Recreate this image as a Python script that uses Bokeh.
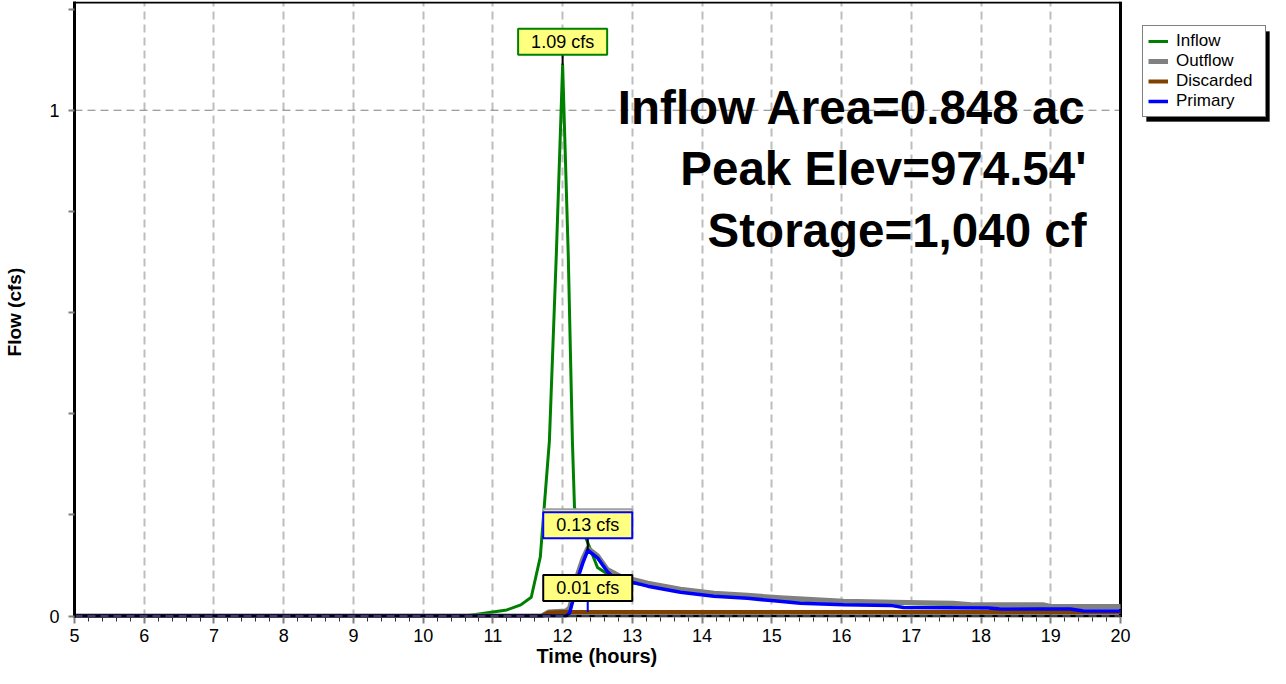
from bokeh.plotting import figure
from bokeh.models import (Range1d, FixedTicker, Legend, LegendItem, Label,
                          BoxAnnotation, Title)
from bokeh.embed import file_html
from bokeh.resources import INLINE

# ---------------- data ----------------
hours = list(range(5, 21))

t_inflow = [5.0, 10.6, 11.0, 11.2, 11.4, 11.55, 11.68, 11.81, 11.91, 12.0, 12.08, 12.14,
            12.17, 12.2, 12.36, 12.5, 12.62, 13.0, 13.5, 14.0, 15.0, 16.0, 17.0, 18.0, 19.0, 20.0]
v_inflow = [0.0, 0.0, 0.008, 0.012, 0.022, 0.037, 0.117, 0.346, 0.717, 1.09, 0.717, 0.346,
            0.215, 0.2, 0.145, 0.096, 0.085, 0.065, 0.055, 0.045, 0.034, 0.028, 0.024, 0.022, 0.019, 0.017]

t_outflow = [5.0, 11.7, 11.8, 12.05, 12.1, 12.14, 12.21, 12.29, 12.36, 12.5, 12.64, 12.83, 13.02,
             13.22, 13.69, 14.17, 14.65, 15.12, 16.03, 16.75, 17.6, 17.9, 18.9, 19.0, 20.0]
v_outflow = [0.0, 0.0, 0.008, 0.01, 0.016, 0.037, 0.08, 0.113, 0.134, 0.119, 0.092, 0.078, 0.072,
             0.065, 0.053, 0.045, 0.041, 0.036, 0.029, 0.027, 0.025, 0.022, 0.022, 0.019, 0.019]

t_discarded = [5.0, 11.7, 11.8, 12.0, 20.0]
v_discarded = [0.0, 0.0, 0.007, 0.008, 0.008]

t_primary = [5.0, 12.05, 12.1, 12.14, 12.21, 12.29, 12.36, 12.5, 12.64, 12.73, 12.83, 13.02, 13.22,
             13.69, 14.17, 14.65, 15.03, 15.41, 16.03, 16.7, 16.89, 18.1, 18.28, 19.28, 19.47, 20.0]
v_primary = [0.0, 0.0, 0.006, 0.027, 0.072, 0.105, 0.13, 0.115, 0.088, 0.076, 0.072, 0.066, 0.059,
             0.047, 0.039, 0.035, 0.03, 0.025, 0.022, 0.021, 0.017, 0.016, 0.014, 0.014, 0.010, 0.010]

series_names = ["Inflow", "Outflow", "Discarded", "Primary"]
series_colors = ["#008000", "#808080", "#804000", "#0000ff"]

info_lines = ["Inflow Area=0.848 ac", "Peak Elev=974.54'", "Storage=1,040 cf"]

x_title = "Time  (hours)"
y_title = "Flow  (cfs)"

# ---------------- layout ----------------
W, H = 1270, 668
MB_L, MB_T, MB_B = 74, 1, 51
FRAME_H = H - MB_T - MB_B
PX_X = 1046 / (hours[-1] - hours[0])   # px per hour of the data area
FRAME_W = W - MB_L
X_END = hours[0] + FRAME_W / PX_X      # frame extends right to hold the legend
Y_END = 1.215
PX_Y = (FRAME_H - 1.5) / Y_END
Y_START = -1.5 / PX_Y

FONT = "Liberation Sans"

p = figure(width=W, height=H, output_backend="svg", toolbar_location=None,
           x_range=Range1d(hours[0], X_END), y_range=Range1d(Y_START, Y_END),
           min_border_left=MB_L, min_border_right=0, min_border_top=MB_T,
           min_border_bottom=MB_B, background_fill_color="white",
           border_fill_color="white")
p.outline_line_color = None

# axes
minor_x = [h + k * 0.2 for h in hours[:-1] for k in range(1, 5)]
p.xaxis.ticker = FixedTicker(ticks=hours, minor_ticks=minor_x)
p.yaxis.ticker = FixedTicker(ticks=[0, 1], minor_ticks=[0.2, 0.4, 0.6, 0.8, 1.2])
for ax in (p.xaxis[0], p.yaxis[0]):
    ax.major_tick_line_color = "#808080"
    ax.major_tick_line_width = 2
    ax.major_tick_in = 0
    ax.major_tick_out = 6
    ax.minor_tick_in = 0
    ax.major_label_text_font = FONT
    ax.major_label_text_font_size = "18px"
    ax.major_label_text_color = "black"
    ax.axis_label_text_font = FONT
    ax.axis_label_text_font_style = "bold"
    ax.axis_label_text_color = "black"
p.xaxis.axis_line_color = None
p.yaxis.axis_line_color = "black"
p.yaxis.axis_line_width = 3
p.xaxis.minor_tick_out = 4
p.xaxis.minor_tick_line_color = "#303030"
p.xaxis.minor_tick_line_width = 1
p.yaxis.minor_tick_out = 6
p.yaxis.minor_tick_line_color = "#808080"
p.yaxis.minor_tick_line_width = 2
p.yaxis.axis_label = y_title
p.yaxis.axis_label_text_font_size = "19px"
p.xaxis.major_label_standoff = 5
p.yaxis.major_label_standoff = 9
p.yaxis.axis_label_standoff = 21

p.add_layout(Title(text=x_title, align="left", text_font=FONT, text_font_style="bold",
                   text_font_size="20px", text_color="black", standoff=0,
                   offset=462, vertical_align="top"), "below")

# grids
p.xgrid.grid_line_color = "#bdbdbd"
p.xgrid.grid_line_width = 2
p.xgrid.grid_line_dash = "8 5"
p.ygrid.grid_line_color = None

# frame lines of the data area (grid at 1, top, right)
y_top = Y_END - 1 / PX_Y
p.segment(x0=[hours[0]], y0=[1], x1=[hours[-1]], y1=[1], line_color="#808080",
          line_width=1, line_dash="8 5")
p.segment(x0=[hours[0]], y0=[y_top], x1=[hours[-1]], y1=[y_top], line_color="black", line_width=2)
p.segment(x0=[hours[-1]], y0=[Y_START], x1=[hours[-1]], y1=[Y_END], line_color="black", line_width=3)

# series
data = [(t_inflow, v_inflow, 3), (t_outflow, v_outflow, 5),
        (t_discarded, v_discarded, 4), (t_primary, v_primary, 3.5)]
renderers = []
for (t, v, lw), c in zip(data, series_colors):
    r = p.line(t, v, line_color=c, line_width=lw, line_join="round")
    renderers.append(r)

# bottom axis line
p.segment(x0=[hours[0]], y0=[0], x1=[hours[-1]], y1=[0], line_color="black", line_width=3)
p.segment(x0=[hours[0]], y0=[0], x1=[hours[-1]], y1=[0], line_color="#808080",
          line_width=1, line_dash="8 5")

# info text
x_info = hours[-1] - 34 / PX_X
for i, txt in enumerate(info_lines):
    y_base = 1 - (-3 + i * 61.5) / PX_Y
    p.add_layout(Label(x=x_info, y=y_base, text=txt, text_align="right",
                       text_baseline="alphabetic", text_font=FONT,
                       text_font_style="bold", text_font_size="47.5px",
                       text_color="black"))

# peak callouts
def peak(ts, vs):
    i = max(range(len(vs)), key=lambda k: vs[k])
    return ts[i], vs[i]

pk_in = peak(t_inflow, v_inflow)
pk_out = peak(t_outflow, v_outflow)
pk_pri = peak(t_primary, v_primary)
pk_dis = (pk_pri[0], max(v_discarded))

callouts = [
    (pk_in, "#008000", 23, 11, "black"),
    (pk_out, "#a0a0a0", 26, 0, None),
    (pk_pri, "#0000ff", 25, 12, "black"),
    (pk_dis, "black", 24, 12, "#0000ff"),
]
for (tp, vp), bc, yoff, conn, conn_c in callouts:
    if conn:
        p.segment(x0=[tp], y0=[vp], x1=[tp], y1=[vp + conn / PX_Y],
                  line_color=conn_c, line_width=2)
for (tp, vp), bc, yoff, conn, conn_c in callouts:
    p.add_layout(Label(x=tp, y=vp, y_offset=yoff, text=f"{vp:.2f} cfs",
                       text_align="center", text_baseline="middle",
                       text_font=FONT, text_font_size="18px", text_color="black",
                       background_fill_color="#ffff80", border_line_color=bc,
                       border_line_width=2, padding=(13, 3)))

# legend with shadow (inside the extended frame, right of the data area)
LEG_X, LEG_Y, LEG_W, LEG_H = 1068, 500, 123, 90
p.add_layout(BoxAnnotation(left=LEG_X + 4, right=LEG_X + LEG_W + 4,
                           bottom=LEG_Y - 4, top=LEG_Y + LEG_H - 4,
                           left_units="screen", right_units="screen",
                           bottom_units="screen", top_units="screen",
                           fill_color="black", fill_alpha=1.0, line_color="black"))
legend = Legend(items=[LegendItem(label=n, renderers=[r]) for n, r in zip(series_names, renderers)],
                location=(LEG_X, LEG_Y), orientation="vertical",
                border_line_color="black", border_line_width=1,
                background_fill_color="white", background_fill_alpha=1.0,
                label_text_font=FONT, label_text_font_size="17px",
                label_text_color="black", glyph_width=20, glyph_height=20,
                label_height=20, label_standoff=8, padding=5, spacing=0,
                margin=0, label_width=84)
p.add_layout(legend)

open("out.html", "w").write(file_html(p, INLINE))
